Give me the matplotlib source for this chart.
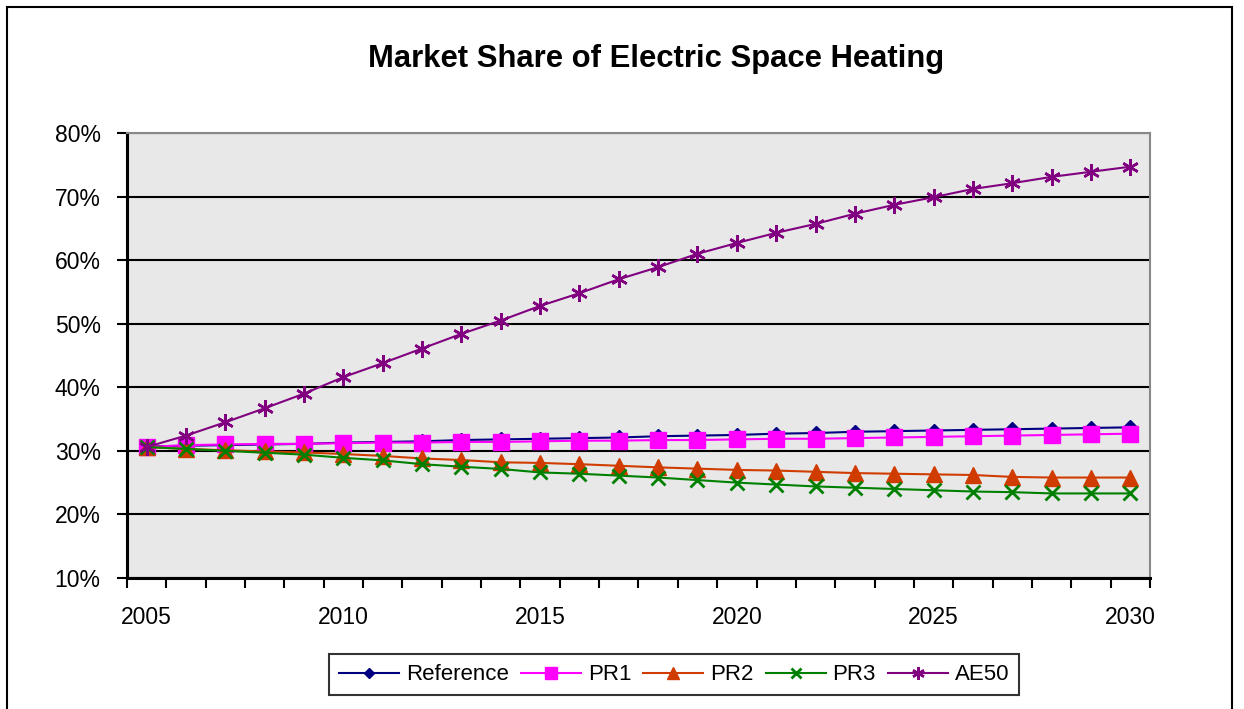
import matplotlib.pyplot as plt
from matplotlib.patches import Rectangle
from matplotlib.ticker import FixedLocator, FuncFormatter

plt.rcParams["font.family"] = ["Liberation Sans", "DejaVu Sans"]

# Data (market share, %)
years = list(range(2005, 2031))
reference = [30.7, 30.8, 30.9, 31.0, 31.1, 31.3, 31.4, 31.5, 31.7, 31.8, 31.9, 32.0, 32.1,
             32.3, 32.4, 32.5, 32.7, 32.8, 33.0, 33.1, 33.2, 33.3, 33.4, 33.5, 33.6, 33.7]
pr1 = [30.6, 30.9, 31.0, 31.1, 31.1, 31.2, 31.3, 31.3, 31.4, 31.4, 31.5, 31.6, 31.6,
       31.7, 31.7, 31.8, 31.9, 31.9, 32.0, 32.1, 32.2, 32.3, 32.4, 32.5, 32.6, 32.7]
pr2 = [30.6, 30.3, 30.1, 29.9, 29.75, 29.5, 29.2, 28.8, 28.55, 28.2, 28.1, 27.9, 27.65,
       27.4, 27.2, 27.0, 26.9, 26.7, 26.5, 26.4, 26.3, 26.2, 25.9, 25.8, 25.8, 25.8]
pr3 = [30.6, 30.3, 30.0, 29.7, 29.4, 28.9, 28.5, 27.9, 27.5, 27.15, 26.6, 26.4, 26.1,
       25.8, 25.4, 25.0, 24.7, 24.4, 24.2, 24.0, 23.8, 23.6, 23.5, 23.3, 23.3, 23.3]
ae50 = [30.6, 32.4, 34.5, 36.7, 39.0, 41.6, 43.8, 46.1, 48.4, 50.5, 52.8, 54.8, 57.0,
        58.9, 61.0, 62.7, 64.3, 65.7, 67.3, 68.7, 69.9, 71.2, 72.1, 73.1, 73.9, 74.7]

fig = plt.figure(figsize=(12.44, 7.09), dpi=100)
ax = fig.add_axes([0.1021, 0.1848, 0.8223, 0.6276])
ax.set_facecolor("#E8E8E8")

ax.plot(years, reference, color="#000080", marker="D", markersize=7, lw=1.5, label="Reference", zorder=3)
ax.plot(years, pr1, color="#FF00FF", marker="s", markersize=12, lw=1.5, label="PR1", zorder=3)
ax.plot(years, pr2, color="#D03C00", marker="^", markersize=12, lw=1.5, label="PR2", zorder=3)
ax.plot(years, pr3, color="#008000", marker="x", markersize=10, mew=2, lw=1.5, label="PR3", zorder=3)
ax.plot(years, ae50, color="#800080", marker=(6, 2, 0), markersize=12, mew=1.8, lw=1.5, label="AE50", zorder=3)

ax.set_xlim(2004.5, 2030.5)
ax.set_ylim(10, 80)
ax.set_yticks(range(10, 81, 10))
ax.yaxis.set_major_formatter(FuncFormatter(lambda v, p: f"{v:.0f}%"))
ax.grid(axis="y", color="black", lw=1.5, zorder=1)

ax.xaxis.set_major_locator(FixedLocator(range(2005, 2031, 5)))
ax.xaxis.set_minor_locator(FixedLocator([y - 0.5 for y in range(2005, 2032)]))
ax.tick_params(axis="x", which="major", length=0, pad=20, labelsize=16.5)
ax.tick_params(axis="x", which="minor", length=7, width=1.5, direction="out")
ax.tick_params(axis="y", length=7, width=1.5, pad=12, labelsize=16.5)

for side in ("left", "bottom"):
    ax.spines[side].set_linewidth(2.2)
    ax.spines[side].set_color("black")
for side in ("top", "right"):
    ax.spines[side].set_linewidth(1.5)
    ax.spines[side].set_color("#888888")

fig.text(0.527, 0.917, "Market Share of Electric Space Heating", ha="center", va="center",
         fontsize=22.3, fontweight="bold")

leg = fig.legend(loc="center", bbox_to_anchor=(0.542, 0.048), ncol=5, fontsize=16,
                 frameon=True, fancybox=False, edgecolor="black", handlelength=2.7,
                 columnspacing=0.55, handletextpad=0.3, borderpad=0.45, markerscale=0.75)
leg.get_frame().set_linewidth(1.5)

fig.patches.append(Rectangle((0.006, -0.1), 0.984, 1.09, transform=fig.transFigure,
                             fill=False, edgecolor="black", lw=1.5))

fig.savefig("out.png", dpi=100)
